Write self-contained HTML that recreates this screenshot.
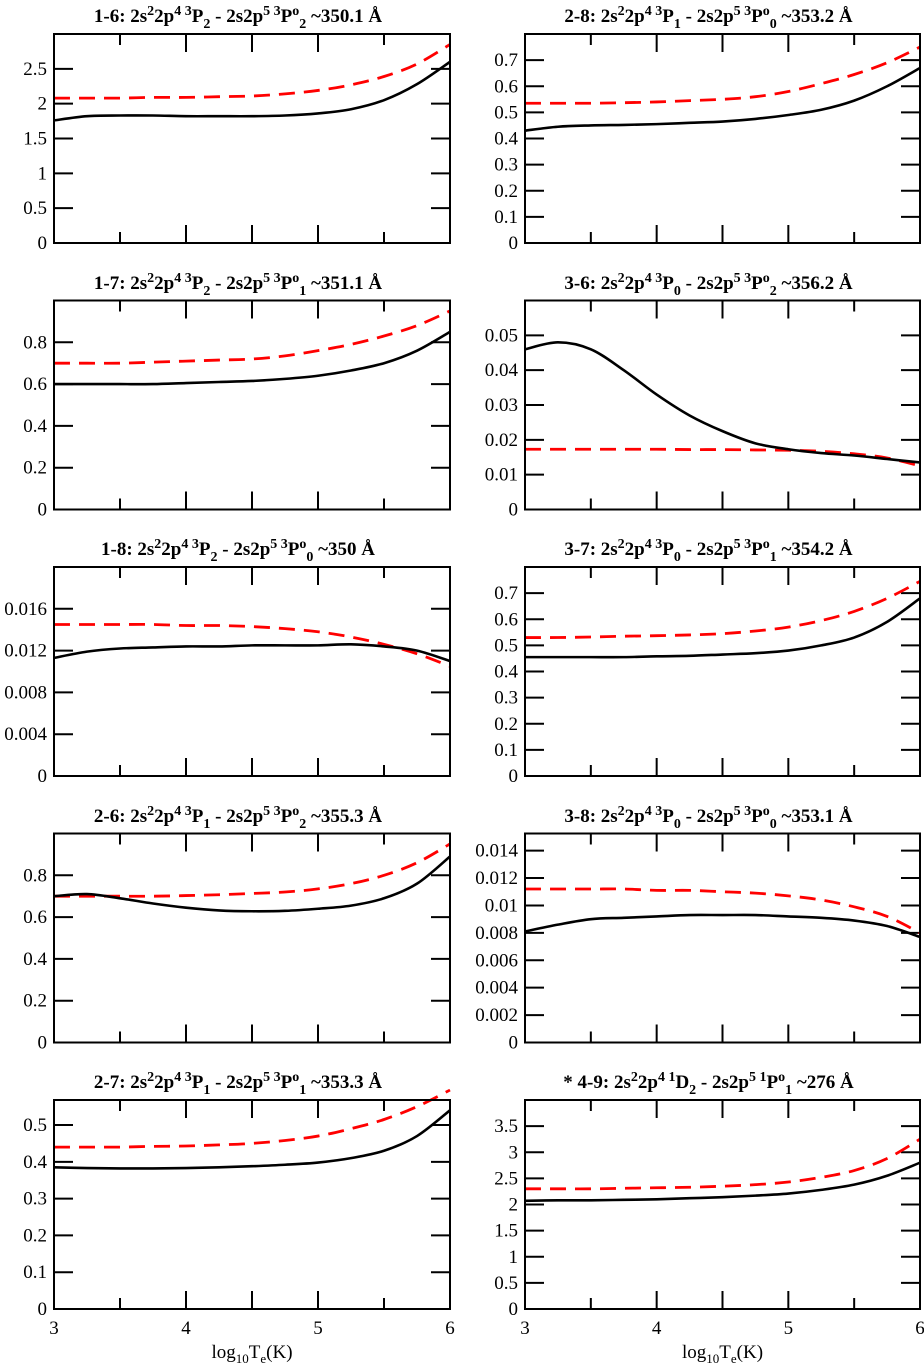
<!DOCTYPE html>
<html><head><meta charset="utf-8">
<style>
body{margin:0;background:#fff;}
#wrap{position:relative;width:924px;height:1364px;font-family:"Liberation Serif",serif;}
.title{position:absolute;font-weight:bold;font-size:19px;white-space:nowrap;transform:translateX(-50%);line-height:1;}
.title sup,.title sub{font-size:14px;}
.title sup{vertical-align:7px;}
.title sub{vertical-align:-6px;}
svg{position:absolute;left:0;top:0;}
</style></head><body>
<div id="wrap">
<svg id="svg" width="924" height="1364"></svg>
</div>
<script>
const xs=[3,3.25,3.5,3.75,4,4.25,4.5,4.75,5,5.25,5.5,5.75,6];
const titles=[
'1-6: 2s<sup>2</sup>2p<sup>4 3</sup>P<sub>2</sub> - 2s2p<sup>5 3</sup>P<sup>o</sup><sub>2</sub> ~350.1 Å',
'2-8: 2s<sup>2</sup>2p<sup>4 3</sup>P<sub>1</sub> - 2s2p<sup>5 3</sup>P<sup>o</sup><sub>0</sub> ~353.2 Å',
'1-7: 2s<sup>2</sup>2p<sup>4 3</sup>P<sub>2</sub> - 2s2p<sup>5 3</sup>P<sup>o</sup><sub>1</sub> ~351.1 Å',
'3-6: 2s<sup>2</sup>2p<sup>4 3</sup>P<sub>0</sub> - 2s2p<sup>5 3</sup>P<sup>o</sup><sub>2</sub> ~356.2 Å',
'1-8: 2s<sup>2</sup>2p<sup>4 3</sup>P<sub>2</sub> - 2s2p<sup>5 3</sup>P<sup>o</sup><sub>0</sub> ~350 Å',
'3-7: 2s<sup>2</sup>2p<sup>4 3</sup>P<sub>0</sub> - 2s2p<sup>5 3</sup>P<sup>o</sup><sub>1</sub> ~354.2 Å',
'2-6: 2s<sup>2</sup>2p<sup>4 3</sup>P<sub>1</sub> - 2s2p<sup>5 3</sup>P<sup>o</sup><sub>2</sub> ~355.3 Å',
'3-8: 2s<sup>2</sup>2p<sup>4 3</sup>P<sub>0</sub> - 2s2p<sup>5 3</sup>P<sup>o</sup><sub>0</sub> ~353.1 Å',
'2-7: 2s<sup>2</sup>2p<sup>4 3</sup>P<sub>1</sub> - 2s2p<sup>5 3</sup>P<sup>o</sup><sub>1</sub> ~353.3 Å',
'* 4-9: 2s<sup>2</sup>2p<sup>4 1</sup>D<sub>2</sub> - 2s2p<sup>5 1</sup>P<sup>o</sup><sub>1</sub> ~276 Å'];
const yMax=[3,0.8,1.0,0.06,0.02,0.8,1.0,0.01525,0.568,4];
const yStep=[0.5,0.1,0.2,0.01,0.004,0.1,0.2,0.002,0.1,0.5];
const yDec=[1,1,1,2,3,1,1,3,1,1];
const black=[
[1.76,1.82,1.83,1.83,1.82,1.82,1.82,1.83,1.86,1.92,2.05,2.28,2.6],
[.43,.445,.45,.452,.455,.46,.465,.475,.49,.51,.545,.6,.67],
[.60,.60,.60,.60,.605,.61,.615,.625,.64,.665,.70,.76,.85],
[.046,.048,.046,.040,.033,.027,.0225,.019,.0173,.0162,.0155,.0145,.0135],
[.0113,.0119,.0122,.0123,.0124,.0124,.0125,.0125,.0125,.0126,.0124,.012,.011],
[.455,.455,.455,.455,.458,.46,.465,.47,.48,.50,.53,.59,.68],
[.70,.71,.69,.665,.645,.632,.628,.63,.64,.655,.69,.76,.89],
[.0081,.0086,.009,.0091,.0092,.0093,.0093,.0093,.0092,.0091,.0089,.0085,.0077],
[.385,.383,.382,.382,.383,.385,.388,.392,.398,.41,.43,.47,.54],
[2.07,2.08,2.08,2.09,2.10,2.12,2.14,2.17,2.21,2.28,2.38,2.55,2.8]];
const red=[
[2.08,2.08,2.08,2.09,2.09,2.10,2.11,2.14,2.19,2.27,2.39,2.57,2.85],
[.535,.535,.535,.537,.54,.545,.55,.56,.58,.61,.645,.69,.75],
[.70,.70,.70,.705,.71,.715,.72,.735,.76,.79,.83,.88,.95],
[.0173,.0173,.0173,.0173,.0173,.0172,.0172,.0171,.017,.0167,.016,.0148,.0125],
[.0145,.0145,.0145,.0145,.0144,.0144,.0143,.0141,.0138,.0133,.0126,.0117,.0105],
[.53,.53,.532,.535,.537,.54,.545,.555,.57,.595,.63,.68,.745],
[.70,.70,.70,.70,.703,.707,.713,.72,.735,.76,.80,.86,.95],
[.0112,.0112,.0112,.0112,.0111,.0111,.011,.0109,.0107,.0104,.0099,.0092,.008],
[.44,.44,.44,.442,.443,.446,.45,.458,.47,.49,.515,.55,.595],
[2.3,2.3,2.3,2.31,2.32,2.33,2.35,2.38,2.43,2.52,2.65,2.88,3.25]];
const xTicks=[3,4,5,6];

const NS='http://www.w3.org/2000/svg';
const svg=document.getElementById('svg');
const wrap=document.getElementById('wrap');
function mk(tag,attrs,parent){const e=document.createElementNS(NS,tag);for(const k in attrs)e.setAttribute(k,attrs[k]);(parent||svg).appendChild(e);return e;}
function smooth(pts){let d='M'+pts[0][0]+','+pts[0][1];
 for(let i=0;i<pts.length-1;i++){const p0=pts[i-1]||pts[i],p1=pts[i],p2=pts[i+1],p3=pts[i+2]||p2;
 const c1=[p1[0]+(p2[0]-p0[0])/6,p1[1]+(p2[1]-p0[1])/6],c2=[p2[0]-(p3[0]-p1[0])/6,p2[1]-(p3[1]-p1[1])/6];
 d+=' C'+c1+' '+c2+' '+p2;}return d;}
for(let p=0;p<10;p++){
 const col=p%2,row=Math.floor(p/2);
 const L=col?525:54,R=col?920:450,B=243+row*266.5,T=B-209;
 const sx=v=>L+(v-3)/3*(R-L), sy=v=>B-v/yMax[p]*(B-T);
 const g=mk('g',{});
 
 
 const t=document.createElement('div');t.className='title';t.innerHTML=titles[p];
 t.style.left=((L+R)/2-14)+'px';t.style.top=(T-29)+'px';
 
 
 wrap.appendChild(t);
 for(let v=3.5;v<6;v+=0.5){const x=sx(v),len=(v===3.5||v===5.5)?11:18;
  mk('line',{x1:x,x2:x,y1:B,y2:B-len,stroke:'#000','stroke-width':2},g);
  mk('line',{x1:x,x2:x,y1:T,y2:T+len,stroke:'#000','stroke-width':2},g);}
 for(let k=0;k*yStep[p]<yMax[p]-yStep[p]*0.3;k++){const v=k*yStep[p],y=sy(v);
  mk('line',{x1:L,x2:L+19,y1:y,y2:y,stroke:'#000','stroke-width':2},g);
  mk('line',{x1:R,x2:R-19,y1:y,y2:y,stroke:'#000','stroke-width':2},g);
  const lb=mk('text',{x:L-7,y:y+6,'text-anchor':'end','font-size':19,'font-family':'Liberation Serif, serif'},g);
  lb.textContent=k===0?'0':v.toFixed(yDec[p]).replace(/0+$/,'').replace(/\.$/,'');
  
  }
 const rp=mk('path',{d:smooth(xs.map((x,i)=>[sx(x),sy(red[p][i])])),fill:'none',stroke:'#f00','stroke-width':2.8,'stroke-dasharray':'16,9'},g);
 
 
 const bp=mk('path',{d:smooth(xs.map((x,i)=>[sx(x),sy(black[p][i])])),fill:'none',stroke:'#000','stroke-width':2.6},g);
 
 
 const fr=mk('rect',{x:L,y:T,width:R-L,height:B-T,fill:'none',stroke:'#000','stroke-width':2},g);
 
 
 if(row===4){
  xTicks.forEach(v=>{const tx=mk('text',{x:sx(v),y:B+25,'text-anchor':'middle','font-size':19,'font-family':'Liberation Serif, serif'},g);tx.textContent=v;
   
   });
  const xt=mk('text',{x:(L+R)/2,y:B+49,'text-anchor':'middle','font-size':19,'font-family':'Liberation Serif, serif'},g);
  xt.innerHTML='log<tspan font-size="13" dy="5">10</tspan><tspan dy="-5">T</tspan><tspan font-size="13" dy="5">e</tspan><tspan dy="-5">(K)</tspan>';
  
  
 }
}
</script>
</body></html>
